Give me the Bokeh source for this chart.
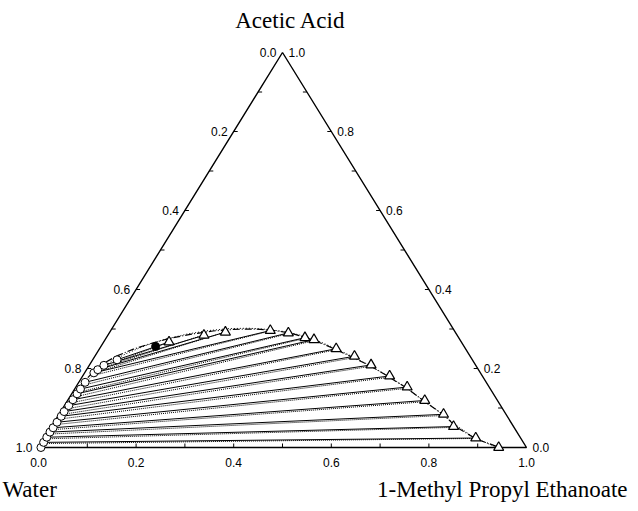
from bokeh.plotting import figure
from bokeh.models import Range1d
from bokeh.embed import file_html
from bokeh.resources import INLINE
from bokeh.core.properties import value

# ---------------- data (mass fractions) ----------------
# experimental tie lines: water-rich phase (raffinate)
raff_ester = [0.005, 0.004, 0.004, 0.004, 0.005, 0.006, 0.007, 0.007, 0.009, 0.010, 0.011, 0.012, 0.013, 0.019, 0.023, 0.030, 0.050]
raff_acid = [0.000, 0.013, 0.026, 0.039, 0.050, 0.064, 0.079, 0.091, 0.106, 0.121, 0.136, 0.148, 0.165, 0.189, 0.197, 0.208, 0.222]
# experimental tie lines: ester-rich phase (extract)
ext_ester = [0.943, 0.884, 0.824, 0.788, 0.732, 0.679, 0.629, 0.577, 0.532, 0.485, 0.428, 0.407, 0.367, 0.327, 0.237, 0.197, 0.134]
ext_acid = [0.000, 0.024, 0.053, 0.084, 0.119, 0.153, 0.181, 0.209, 0.231, 0.250, 0.273, 0.278, 0.290, 0.296, 0.292, 0.284, 0.267]
# calculated tie lines
calc_raff_ester = [0.005, 0.004, 0.004, 0.004, 0.005, 0.006, 0.007, 0.008, 0.009, 0.010, 0.011, 0.012, 0.014, 0.020, 0.024, 0.032, 0.054]
calc_raff_acid = [0.000, 0.010, 0.022, 0.034, 0.045, 0.058, 0.072, 0.084, 0.098, 0.113, 0.128, 0.140, 0.158, 0.182, 0.191, 0.203, 0.219]
calc_ext_ester = [0.943, 0.886, 0.826, 0.790, 0.735, 0.682, 0.632, 0.580, 0.535, 0.488, 0.431, 0.410, 0.370, 0.330, 0.240, 0.200, 0.140]
calc_ext_acid = [0.000, 0.023, 0.051, 0.081, 0.116, 0.150, 0.178, 0.206, 0.228, 0.248, 0.271, 0.277, 0.289, 0.296, 0.294, 0.287, 0.270]
# plait point
plait_ester = [0.112]
plait_acid = [0.256]
# binodal curve, model 1 (dash-dot)
bin1_ester = [0.006, 0.005, 0.006, 0.007, 0.009, 0.012, 0.018, 0.028, 0.045, 0.070, 0.100, 0.130, 0.170, 0.210, 0.250, 0.290, 0.330, 0.370, 0.410, 0.450, 0.490, 0.530, 0.580, 0.630, 0.680, 0.730, 0.790, 0.830, 0.885, 0.945]
bin1_acid = [0.000, 0.040, 0.080, 0.120, 0.150, 0.175, 0.197, 0.214, 0.232, 0.249, 0.264, 0.276, 0.287, 0.295, 0.299, 0.300, 0.297, 0.290, 0.278, 0.263, 0.246, 0.228, 0.205, 0.178, 0.150, 0.118, 0.082, 0.052, 0.022, 0.000]
# binodal curve, model 2 (dotted)
bin2_ester = [0.006, 0.006, 0.008, 0.011, 0.016, 0.025, 0.040, 0.060, 0.090, 0.120, 0.160, 0.200, 0.240, 0.280, 0.320, 0.360, 0.400, 0.440, 0.480, 0.520, 0.570, 0.620, 0.670, 0.720, 0.780, 0.830, 0.880, 0.940]
bin2_acid = [0.000, 0.050, 0.100, 0.140, 0.170, 0.195, 0.217, 0.237, 0.258, 0.273, 0.287, 0.296, 0.301, 0.302, 0.299, 0.293, 0.283, 0.269, 0.252, 0.234, 0.210, 0.184, 0.156, 0.125, 0.088, 0.055, 0.025, 0.000]

# axis ticks and labels
minor_ticks = [0.1, 0.2, 0.3, 0.4, 0.5, 0.6, 0.7, 0.8, 0.9]
label_values = [0.0, 0.2, 0.4, 0.6, 0.8, 1.0]
label_texts = ["0.0", "0.2", "0.4", "0.6", "0.8", "1.0"]
title_top = "Acetic Acid"
title_left = "Water"
title_right = "1-Methyl Propyl Ethanoate"


def tx(ester, acid):
    return [e + a / 2.0 for e, a in zip(ester, acid)]


W, H = 630, 503
# canvas mapping: X=0 -> x 38, X=1 -> 526 ; Y=0 -> y 447, Y=1 -> 52
sx = 488.0
sy = 395.0
x0 = (0 - 38) / sx
x1 = (W - 38) / sx
y1 = 447 / sy
y0 = (447 - H) / sy

p = figure(width=W, height=H, x_range=Range1d(x0, x1), y_range=Range1d(y0, y1),
           output_backend="svg", toolbar_location=None, min_border=0,
           x_axis_type=None, y_axis_type=None, outline_line_color=None)
p.grid.visible = False

px = 1.0 / sx
py = 1.0 / sy

# triangle frame
p.line([0, 1, 0.5, 0], [0, 0, 1, 0], line_color="black", line_width=1.4)

# ticks
bt_x = minor_ticks
p.segment(x0=bt_x, y0=[0] * len(bt_x), x1=bt_x, y1=[4 * py] * len(bt_x), line_color="black", line_width=1)
lt_x = [(1 - w) / 2.0 for w in minor_ticks]
lt_y = [1 - w for w in minor_ticks]
p.segment(x0=lt_x, y0=lt_y, x1=[x + 4 * px for x in lt_x], y1=lt_y, line_color="black", line_width=1)
rt_x = [1 - a / 2.0 for a in minor_ticks]
rt_y = minor_ticks
p.segment(x0=rt_x, y0=rt_y, x1=[x - 4 * px for x in rt_x], y1=rt_y, line_color="black", line_width=1)

# tick labels
lab_font = value("Liberation Sans")
fs = "12px"
p.text(x=label_values, y=[0] * 6, text=label_texts, text_align="center", text_baseline="middle",
       y_offset=15, text_font=lab_font, text_font_size=fs, text_color="black")
p.text(x=[(1 - w) / 2.0 for w in label_values], y=[1 - w for w in label_values], text=label_texts,
       text_align="right", text_baseline="middle", x_offset=-6, text_font=lab_font,
       text_font_size=fs, text_color="black")
p.text(x=[1 - a / 2.0 for a in label_values], y=label_values, text=label_texts,
       text_align="left", text_baseline="middle", x_offset=6, text_font=lab_font,
       text_font_size=fs, text_color="black")

# titles
serif = value("Liberation Serif")
p.text(x=[0.5], y=[1.0], text=[title_top], text_align="center", text_baseline="middle",
       x_offset=8, y_offset=-32, text_font=serif, text_font_size="23px", text_color="black")
p.text(x=[0.0], y=[0.0], text=[title_left], text_align="left", text_baseline="middle",
       x_offset=-36, y_offset=42, text_font=serif, text_font_size="23px", text_color="black")
p.text(x=[1.0], y=[0.0], text=[title_right], text_align="right", text_baseline="middle",
       x_offset=101, y_offset=42, text_font=serif, text_font_size="23px", text_color="black")

# binodal curves
p.line(tx(bin2_ester, bin2_acid), bin2_acid, line_color="black", line_width=1, line_dash="1 2")
p.line(tx(bin1_ester, bin1_acid), bin1_acid, line_color="black", line_width=1.2, line_dash="7 2 1 2")

# calculated tie lines
p.segment(x0=tx(calc_raff_ester, calc_raff_acid), y0=calc_raff_acid,
          x1=tx(calc_ext_ester, calc_ext_acid), y1=calc_ext_acid,
          line_color="black", line_width=1, line_dash="1 1")
# experimental tie lines
p.segment(x0=tx(raff_ester, raff_acid), y0=raff_acid,
          x1=tx(ext_ester, ext_acid), y1=ext_acid,
          line_color="black", line_width=1)

# markers
p.scatter(tx(raff_ester, raff_acid), raff_acid, marker="circle", size=8,
          fill_color="white", line_color="black", line_width=1)
p.scatter(tx(ext_ester, ext_acid), ext_acid, marker="triangle", size=10,
          fill_color="white", line_color="black", line_width=1.2)
p.scatter(tx(plait_ester, plait_acid), plait_acid, marker="circle", size=8,
          fill_color="black", line_color="black")

open("out.html", "w").write(file_html(p, INLINE))
